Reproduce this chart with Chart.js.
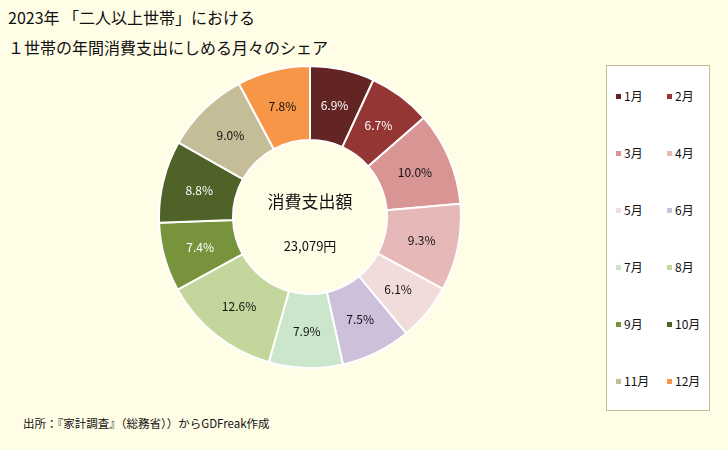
<!DOCTYPE html>
<html>
<head>
<meta charset="utf-8">
<script src="https://cdn.jsdelivr.net/npm/chart.js@4/dist/chart.umd.min.js"></script>
<style>
  body { margin: 0; background: #fffde6; font-family: "Noto Sans CJK JP", sans-serif; }
  #wrap { position: relative; width: 728px; height: 450px; overflow: hidden; }
  .t { position: absolute; color: #111; white-space: nowrap; }
  #chartBox { position: absolute; left: 158px; top: 65px; width: 304px; height: 304px; }
  #legend { position: absolute; left: 606px; top: 65px; width: 102px; height: 344px;
            background: #fff; border: 1px solid #c4bd97; }
  .item { position: absolute; font-size: 12px; color: #111; line-height: 14px; }
  .item span { display: inline-block; width: 5px; height: 5px; margin-right: 3px; vertical-align: 2px; }
</style>
</head>
<body>
<div id="wrap">
  <div class="t" style="left:8px; top:5px; font-size:16px;">2023年 「二人以上世帯」における</div>
  <div class="t" style="left:8px; top:35px; font-size:16px;">１世帯の年間消費支出にしめる月々のシェア</div>
  <div class="t" style="left:23px; top:415px; font-size:11.5px;">出所：『家計調査』（総務省））からGDFreak作成</div>
  <div id="chartBox"><canvas id="pie"></canvas></div>
  <div id="legend"></div>
</div>
<script>
const months = ['1月', '2月', '3月', '4月', '5月', '6月', '7月', '8月', '9月', '10月', '11月', '12月'];
const shares = [6.9, 6.7, 10.0, 9.3, 6.1, 7.5, 7.9, 12.6, 7.4, 8.8, 9.0, 7.8];
const colors = ['#632523', '#943634', '#d99594', '#e6b8b7', '#f2dcdb', '#ccc0da',
                '#cce6cc', '#c3d69b', '#77933c', '#4f6228', '#c4bd97', '#f79646'];
const labelColors = ['#fff', '#fff', '#111', '#111', '#111', '#111',
                     '#111', '#111', '#fff', '#fff', '#111', '#111'];
const centerTitle = '消費支出額';
const centerValue = '23,079円';

// legend, two columns
const legend = document.getElementById('legend');
months.forEach(function (m, i) {
    const div = document.createElement('div');
    div.className = 'item';
    div.style.left = (i % 2 === 0 ? 9 : 60) + 'px';
    div.style.top = (23 + Math.floor(i / 2) * 57) + 'px';
    div.innerHTML = '<span style="background:' + colors[i] + '"></span>' + m;
    legend.appendChild(div);
});

// percent labels + center text
const labelPlugin = {
    id: 'labels',
    afterDatasetsDraw(chart) {
        const ctx = chart.ctx;
        const meta = chart.getDatasetMeta(0);
        ctx.save();
        ctx.textAlign = 'center';
        ctx.textBaseline = 'middle';
        ctx.font = '12px "Noto Sans CJK JP"';
        meta.data.forEach(function (arc, i) {
            const p = arc.tooltipPosition();
            ctx.fillStyle = labelColors[i];
            ctx.fillText(shares[i].toFixed(1) + '%', p.x, p.y);
        });
        const cx = (chart.chartArea.left + chart.chartArea.right) / 2;
        const cy = (chart.chartArea.top + chart.chartArea.bottom) / 2;
        ctx.fillStyle = '#111';
        ctx.font = '17px "Noto Sans CJK JP"';
        ctx.fillText(centerTitle, cx, cy - 15);
        ctx.font = '13px "Noto Sans CJK JP"';
        ctx.fillText(centerValue, cx, cy + 29);
        ctx.restore();
    }
};

new Chart(document.getElementById('pie'), {
    type: 'doughnut',
    data: {
        labels: months,
        datasets: [{
            data: shares,
            backgroundColor: colors,
            borderColor: '#ffffff',
            borderWidth: 2
        }]
    },
    options: {
        responsive: true,
        maintainAspectRatio: false,
        animation: false,
        cutout: '51%',
        layout: { padding: 0 },
        plugins: {
            legend: { display: false },
            tooltip: { enabled: false }
        }
    },
    plugins: [labelPlugin]
});
</script>
</body>
</html>
